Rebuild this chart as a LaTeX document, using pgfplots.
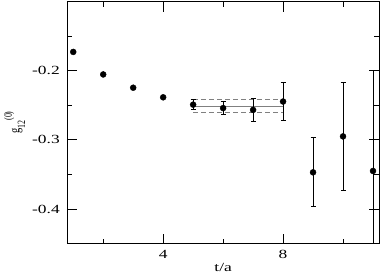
\documentclass[border=0pt]{standalone}
\usepackage{fontspec}
\setmainfont{Liberation Serif}[FakeStretch=1.4]
\newfontfamily\plainserif{Liberation Serif}
\usepackage{pgfplots}
\pgfplotsset{compat=1.18}
\begin{document}
\fontsize{12.5}{14}\selectfont
\begin{tikzpicture}
\begin{axis}[name=ax, scale only axis, width=312bp, height=242bp,
  xmin=0.8, xmax=11.2, ymin=-0.45, ymax=-0.1,
  xtick={4,8}, minor xtick={2,6,10},
  ytick={-0.4,-0.3,-0.2}, yticklabels={-0.4,-0.3,-0.2},
  minor ytick={-0.35,-0.25,-0.15},
  xtick pos=both, ytick pos=both,
  tick align=inside,
  major tick length=10bp, minor tick length=5bp,
  axis line style={line width=1bp},
  tick style={line width=0.9bp, black},
  /pgf/number format/assume math mode=true,
  tick label style={font=\fontsize{12.5}{14}\selectfont},
  xticklabel style={anchor=north, inner sep=0pt, yshift=-6.7bp},
  yticklabel style={anchor=east, inner sep=0pt, xshift=-7.3bp},
  xlabel={t/a},
  xlabel style={at={(axis description cs:0.5,0)}, anchor=north, inner sep=0pt, yshift=-19.5bp, font=\fontsize{12.5}{14}\selectfont},
  ylabel={\scalebox{1}[1.4]{\plainserif\fontsize{10.5}{12}\selectfont g{\fontsize{8}{9}\selectfont\raisebox{-1.1ex}{12}\raisebox{1.5ex}{(0)}}}},
  ylabel style={at={(axis description cs:-0.169,0.5)}, anchor=center, inner sep=0pt},
  clip=true,
]
\addplot[gray, dashed, line width=1bp, dash pattern=on 5bp off 3bp] coordinates {(5,-0.2417) (8,-0.2417)};
\addplot[gray, dashed, line width=1bp, dash pattern=on 5bp off 3bp] coordinates {(5,-0.2609) (8,-0.2609)};
\addplot[gray, line width=1bp] coordinates {(5,-0.2513) (8,-0.2513)};
\addplot[only marks, mark=*, black, mark size=3bp] table[x=x,y=y] {
x y
1 -0.1727
2 -0.2053
3 -0.2245
4 -0.2384
};
\addplot[only marks, mark=*, black, mark size=3bp,
  error bars/.cd, y dir=both, y explicit,
  error bar style={line width=1bp, black},
  error mark options={rotate=90, mark size=2.5bp, black, line width=0.8bp}]
  table[x=x,y=y,y error=e] {
x y e
5 -0.249 0.007
6 -0.254 0.009
7 -0.2566 0.016
8 -0.2445 0.028
9 -0.347 0.05
10 -0.295 0.078
11 -0.345 0.145
};
\end{axis}
\pgfresetboundingbox
\path[use as bounding box] ([xshift=-67.3bp,yshift=-29.7bp]ax.south west) rectangle ([xshift=3bp,yshift=1.7bp]ax.north east);
\end{tikzpicture}
\end{document}
